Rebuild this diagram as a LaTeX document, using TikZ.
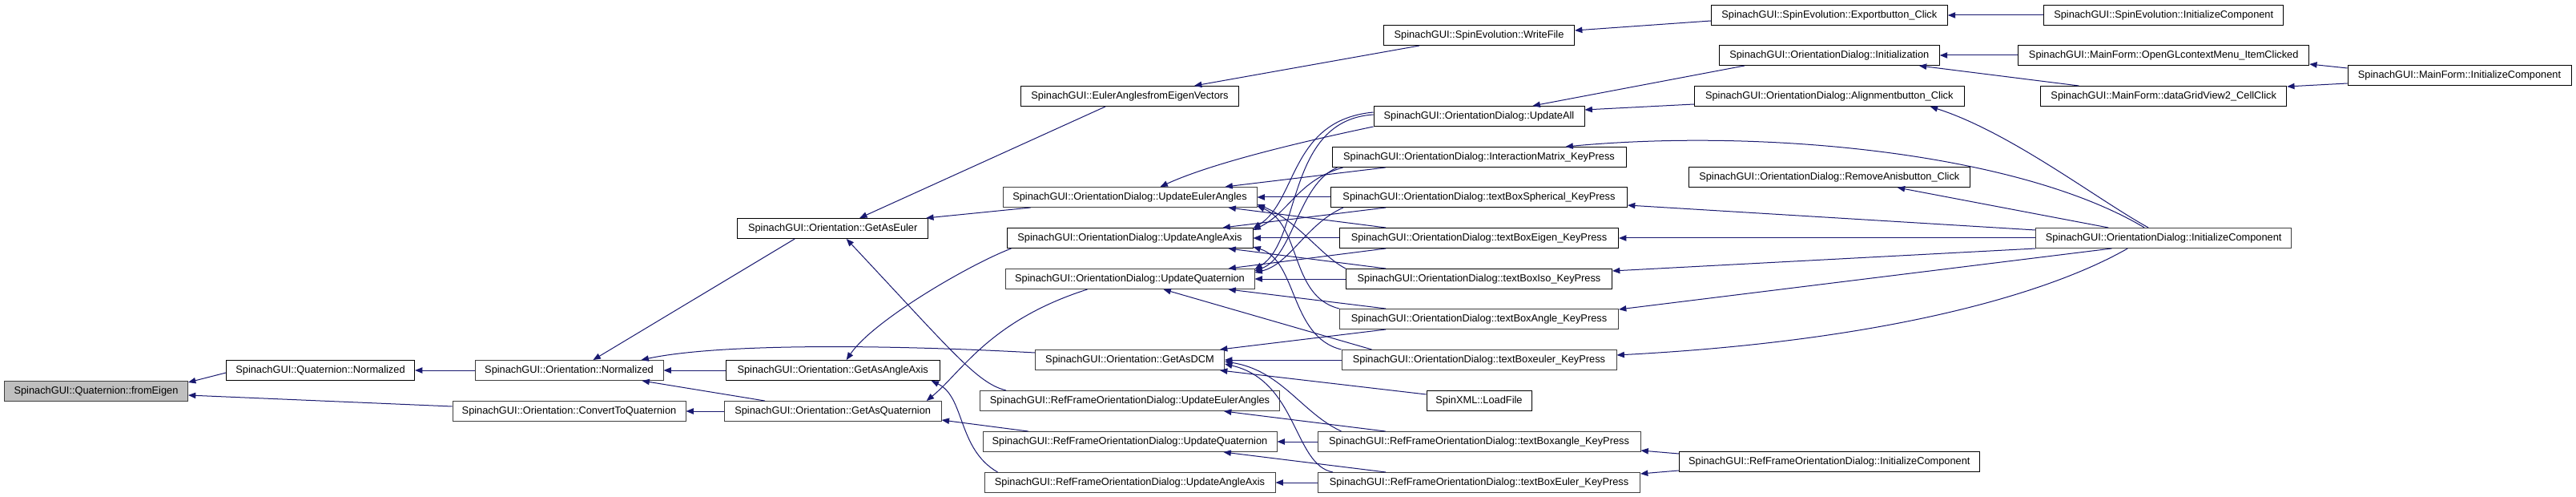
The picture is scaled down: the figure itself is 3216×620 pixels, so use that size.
\documentclass[tikz,border=0pt]{standalone}
\usepackage{fontspec}
\setmainfont{Liberation Sans}
\usetikzlibrary{arrows.meta,calc}
\definecolor{dxnavy}{RGB}{25,25,112}
\definecolor{dxgrey}{RGB}{191,191,191}
\definecolor{dxline}{RGB}{64,64,64}

\tikzset{
  fn/.style={draw=black, fill=white, line width=0.75pt, inner sep=0pt,
    minimum width=#1*0.75pt, minimum height=18.75pt,
    font=\fontsize{9.6}{11}\selectfont},
  fnd/.style={fn=#1, draw=dxline},
  edge/.style={draw=dxnavy, line width=0.75pt,
    {Triangle[length=7pt,width=5.5pt]}-},
}

\begin{document}
\begin{tikzpicture}[x=0.75pt,y=-0.75pt]
  \fill[white] (0,0) rectangle (3216,620);
  \useasboundingbox (0,0) rectangle (3216,620);

  % ranks from left (callee) to right (callers), px of the screen
  \node[fnd=229, fill=dxgrey] (fromEigen) at (120,488) {SpinachGUI::Quaternion::fromEigen};
  \node[fn=235]  (qnorm) at (400,462) {SpinachGUI::Quaternion::Normalized};
  \node[fnd=235] (onorm) at (710.5,462) {SpinachGUI::Orientation::Normalized};
  \node[fnd=291] (conv)  at (710.5,513) {SpinachGUI::Orientation::ConvertToQuaternion};
  \node[fn=238]  (euler) at (1039.7,285) {SpinachGUI::Orientation::GetAsEuler};
  \node[fn=267]  (angax) at (1039.7,462) {SpinachGUI::Orientation::GetAsAngleAxis};
  \node[fnd=271] (quat)  at (1039.7,513) {SpinachGUI::Orientation::GetAsQuaternion};
  \node[fn=272]  (eaev)   at (1410.5,120) {SpinachGUI::EulerAnglesfromEigenVectors};
  \node[fnd=317] (odeul)  at (1410.5,246) {SpinachGUI::OrientationDialog::UpdateEulerAngles};
  \node[fn=307]  (odang)  at (1410.5,297) {SpinachGUI::OrientationDialog::UpdateAngleAxis};
  \node[fnd=311] (odquat) at (1410.5,348) {SpinachGUI::OrientationDialog::UpdateQuaternion};
  \node[fnd=236] (dcm)    at (1410.5,449) {SpinachGUI::Orientation::GetAsDCM};
  \node[fnd=374] (rfeul)  at (1410.5,500) {SpinachGUI::RefFrameOrientationDialog::UpdateEulerAngles};
  \node[fnd=367] (rfquat) at (1410.5,551) {SpinachGUI::RefFrameOrientationDialog::UpdateQuaternion};
  \node[fnd=363] (rfang)  at (1410.5,602) {SpinachGUI::RefFrameOrientationDialog::UpdateAngleAxis};
  \node[fn=238]  (write)  at (1846.5,44)  {SpinachGUI::SpinEvolution::WriteFile};
  \node[fn=263]  (updall) at (1846.5,145) {SpinachGUI::OrientationDialog::UpdateAll};
  \node[fn=367]  (imat)   at (1846.5,196) {SpinachGUI::OrientationDialog::InteractionMatrix\_KeyPress};
  \node[fn=370]  (tbsph)  at (1846.5,246) {SpinachGUI::OrientationDialog::textBoxSpherical\_KeyPress};
  \node[fn=348]  (tbeig)  at (1846.5,297) {SpinachGUI::OrientationDialog::textBoxEigen\_KeyPress};
  \node[fn=332]  (tbiso)  at (1846.5,348) {SpinachGUI::OrientationDialog::textBoxIso\_KeyPress};
  \node[fnd=348] (tbang)  at (1846.5,398) {SpinachGUI::OrientationDialog::textBoxAngle\_KeyPress};
  \node[fnd=343] (tbeul)  at (1846.5,449) {SpinachGUI::OrientationDialog::textBoxeuler\_KeyPress};
  \node[fn=131]  (load)   at (1846.5,500) {SpinXML::LoadFile};
  \node[fnd=403] (rftba)  at (1846.5,551) {SpinachGUI::RefFrameOrientationDialog::textBoxangle\_KeyPress};
  \node[fnd=402] (rftbe)  at (1846.5,602) {SpinachGUI::RefFrameOrientationDialog::textBoxEuler\_KeyPress};
  \node[fn=295]  (export) at (2283.8,19)  {SpinachGUI::SpinEvolution::Exportbutton\_Click};
  \node[fn=275]  (init)   at (2283.8,69)  {SpinachGUI::OrientationDialog::Initialization};
  \node[fn=337]  (align)  at (2283.8,120) {SpinachGUI::OrientationDialog::Alignmentbutton\_Click};
  \node[fn=351]  (remove) at (2283.8,221) {SpinachGUI::OrientationDialog::RemoveAnisbutton\_Click};
  \node[fn=375]  (rfinit) at (2283.8,576) {SpinachGUI::RefFrameOrientationDialog::InitializeComponent};
  \node[fn=299]  (seinit) at (2701.2,19)  {SpinachGUI::SpinEvolution::InitializeComponent};
  \node[fn=363]  (opengl) at (2701.2,69)  {SpinachGUI::MainForm::OpenGLcontextMenu\_ItemClicked};
  \node[fn=307]  (grid)   at (2701.2,120) {SpinachGUI::MainForm::dataGridView2\_CellClick};
  \node[fnd=319] (odinit) at (2701.2,297) {SpinachGUI::OrientationDialog::InitializeComponent};
  \node[fn=279]  (mfinit) at (3070.5,94)  {SpinachGUI::MainForm::InitializeComponent};

  % calls into the Quaternion / Orientation core
  \draw[edge] ($(fromEigen.east)+(0,-11)$) -- ($(qnorm.west)+(0,3)$);
  \draw[edge] ($(fromEigen.east)+(0,5)$) -- ($(conv.west)+(0,-6)$);
  \draw[edge] (qnorm.east) -- (onorm.west);
  \draw[edge] ($(onorm.north)+(30,0)$) -- ($(euler.south west)+(72,0)$);
  \draw[edge] (onorm.east) -- (angax.west);
  \draw[edge] ($(onorm.north)+(90,0)$) .. controls (900,428) and (1110,430) .. ($(dcm.west)+(0,-9)$);
  \draw[edge] ($(onorm.south)+(91,0)$) -- ($(quat.north west)+(51,0)$);
  \draw[edge] (conv.east) -- (quat.west);
  \draw[edge] ($(euler.north west)+(153,0)$) -- ($(eaev.south west)+(106,0)$);
  \draw[edge] ($(euler.north east)+(-3,0)$) -- ($(odeul.south west)+(35,0)$);
  \draw[edge] ($(euler.south)+(17,0)$) .. controls (1190,440) and (1220,478) .. ($(rfeul.north west)+(33,0)$);
  \draw[edge] ($(angax.north)+(17,0)$) .. controls (1090,400) and (1210,330) .. ($(odang.south west)+(6,0)$);
  \draw[edge] ($(angax.south east)+(-11,0)$) .. controls (1205,495) and (1195,560) .. ($(rfang.north west)+(17,0)$);
  \draw[edge] ($(quat.north)+(117,0)$) .. controls (1200,465) and (1235,400) .. ($(odquat.south west)+(103,0)$);
  \draw[edge] ($(quat.east)+(0,11)$) -- ($(rfquat.north west)+(57,0)$);

  % dialog handlers into the update functions
  \draw[edge] ($(odeul.north)+(38,0)$) .. controls (1510,205) and (1610,180) .. (updall.south west);
  \draw[edge] ($(odang.east)+(0,-12)$) .. controls (1620,250) and (1610,150) .. ($(updall.west)+(0,-5)$);
  \draw[edge] ($(odquat.east)+(0,-12)$) .. controls (1625,300) and (1605,150) .. ($(updall.west)+(0,-2)$);
  \draw[edge] ($(odeul.north east)+(-40,0)$) -- ($(imat.south west)+(67,0)$);
  \draw[edge] ($(odang.east)+(0,-10)$) .. controls (1610,265) and (1620,225) .. ($(imat.south west)+(14,0)$);
  \draw[edge] ($(odquat.east)+(0,-10)$) .. controls (1615,320) and (1620,230) .. ($(imat.south west)+(7,0)$);
  \draw[edge] (odeul.east) -- (tbsph.west);
  \draw[edge] ($(odang.north east)+(-38,0)$) -- ($(tbsph.south west)+(69,0)$);
  \draw[edge] ($(odquat.east)+(0,-8)$) .. controls (1610,330) and (1630,280) .. ($(tbsph.south west)+(16,0)$);
  \draw[edge] ($(odeul.south east)+(-36,0)$) -- ($(tbeig.north west)+(58,0)$);
  \draw[edge] (odang.east) -- (tbeig.west);
  \draw[edge] ($(odquat.north east)+(-33,0)$) -- ($(tbeig.south west)+(58,0)$);
  \draw[edge] ($(odeul.east)+(0,9)$) .. controls (1620,275) and (1650,320) .. (tbiso.north west);
  \draw[edge] ($(odang.south east)+(-31,0)$) -- ($(tbiso.north west)+(50,0)$);
  \draw[edge] (odquat.east) -- (tbiso.west);
  \draw[edge] ($(odeul.east)+(0,11)$) .. controls (1625,280) and (1610,370) .. (tbang.north west);
  \draw[edge] ($(odquat.south east)+(-33,0)$) -- ($(tbang.north west)+(58,0)$);
  \draw[edge] ($(dcm.north east)+(-6,0)$) -- ($(tbang.south west)+(58,0)$);
  \draw[edge] ($(odang.east)+(0,11)$) .. controls (1620,325) and (1610,420) .. (tbeul.north west);
  \draw[edge] ($(odquat.south)+(42,0)$) -- ($(tbeul.north west)+(38,0)$);
  \draw[edge] (dcm.east) -- (tbeul.west);
  \draw[edge] ($(dcm.south east)+(-6,0)$) -- ($(load.west)+(0,-8)$);
  \draw[edge] ($(dcm.east)+(0,2)$) .. controls (1600,462) and (1625,515) .. ($(rftba.north west)+(30,0)$);
  \draw[edge] ($(dcm.east)+(0,5)$) .. controls (1620,475) and (1615,580) .. ($(rftbe.north west)+(19,0)$);
  \draw[edge] ($(rfeul.south east)+(-70,0)$) -- ($(rftba.north west)+(85,0)$);
  \draw[edge] (rfquat.east) -- (rftba.west);
  \draw[edge] ($(rfquat.south east)+(-67,0)$) -- ($(rftbe.north west)+(85,0)$);
  \draw[edge] (rfang.east) -- (rftbe.west);

  % outer callers
  \draw[edge] ($(eaev.north east)+(-56,0)$) -- ($(write.south west)+(45,0)$);
  \draw[edge] ($(write.east)+(0,-6)$) -- ($(export.west)+(0,7)$);
  \draw[edge] (export.east) -- (seinit.west);
  \draw[edge] ($(updall.north)+(67,0)$) -- ($(init.south west)+(32,0)$);
  \draw[edge] ($(updall.east)+(0,-8)$) -- ($(align.west)+(0,10)$);
  \draw[edge] (init.east) -- (opengl.west);
  \draw[edge] ($(init.south east)+(-26,0)$) -- ($(grid.north west)+(48,0)$);
  \draw[edge] ($(opengl.east)+(0,11)$) -- ($(mfinit.west)+(0,-9)$);
  \draw[edge] ($(grid.east)+(0,-12)$) -- ($(mfinit.west)+(0,10)$);
  \draw[edge] ($(align.south east)+(-43,0)$) .. controls (2510,165) and (2620,250) .. ($(odinit.north west)+(141,0)$);
  \draw[edge] ($(imat.north)+(108,0)$) .. controls (2200,160) and (2520,190) .. ($(odinit.north west)+(136,0)$);
  \draw[edge] ($(remove.south east)+(-91,0)$) -- ($(odinit.north west)+(91,0)$);
  \draw[edge] ($(tbsph.east)+(0,10)$) -- ($(odinit.west)+(0,-10)$);
  \draw[edge] (tbeig.east) -- (odinit.west);
  \draw[edge] ($(tbiso.east)+(0,-10)$) -- (odinit.south west);
  \draw[edge] ($(tbang.east)+(0,-12)$) -- ($(odinit.south west)+(95,0)$);
  \draw[edge] ($(tbeul.east)+(0,-6)$) .. controls (2360,425) and (2560,365) .. ($(odinit.south west)+(115,0)$);
  \draw[edge] ($(rftba.east)+(0,11)$) -- ($(rfinit.west)+(0,-10)$);
  \draw[edge] ($(rftbe.east)+(0,-11)$) -- ($(rfinit.west)+(0,11)$);
\end{tikzpicture}
\end{document}
